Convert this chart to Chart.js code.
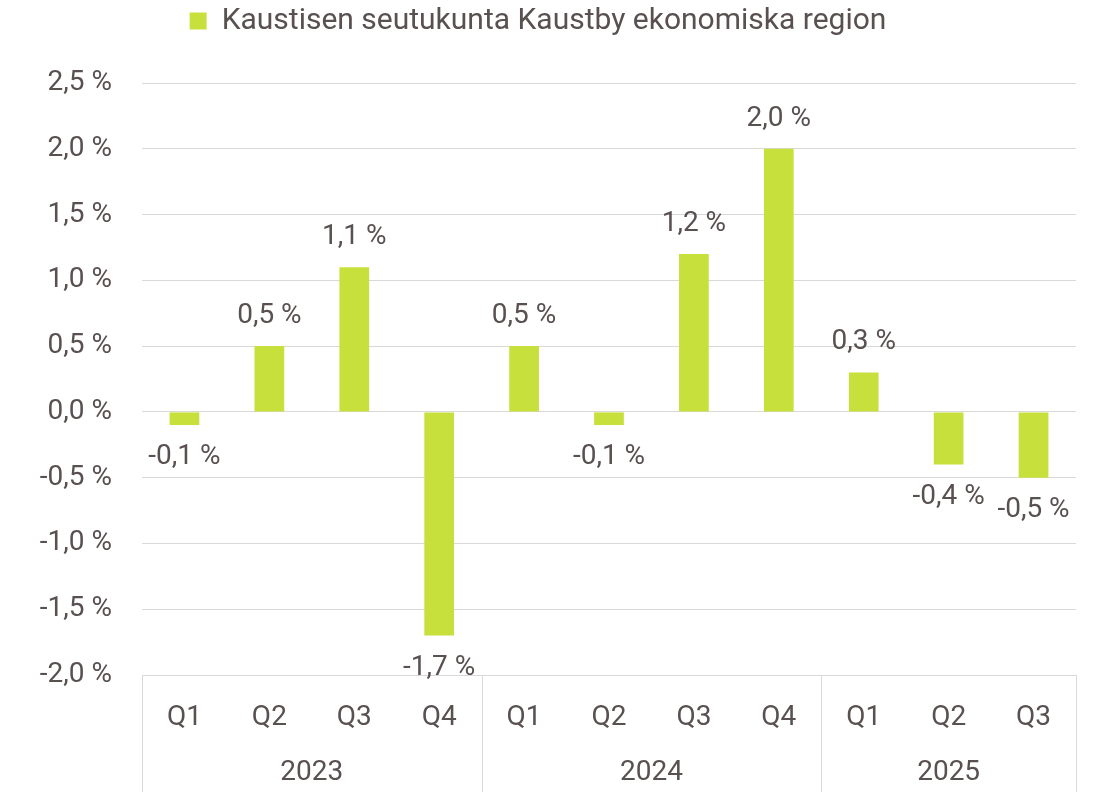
<!DOCTYPE html>
<html>
<head>
<meta charset="utf-8">
<script src="https://cdn.jsdelivr.net/npm/chart.js@4/dist/chart.umd.min.js"></script>
<style>
  html, body { margin: 0; padding: 0; background: #fff; }
  #wrap { width: 1100px; height: 792px; }
</style>
</head>
<body>
<div id="wrap"><canvas id="chart" width="1100" height="792"></canvas></div>
<script>
const quarters = ['Q1', 'Q2', 'Q3', 'Q4', 'Q1', 'Q2', 'Q3', 'Q4', 'Q1', 'Q2', 'Q3'];
const years = ['2023', '2024', '2025'];
const yearSizes = [4, 4, 3];
const values = [-0.1, 0.5, 1.1, -1.7, 0.5, -0.1, 1.2, 2.0, 0.3, -0.4, -0.5];
const seriesName = 'Kaustisen seutukunta Kaustby ekonomiska region';

const textColor = '#595050';
const barColor = '#c8e03c';
const gridColor = '#d9d9d9';
const fontFamily = 'Roboto, "Open Sans", sans-serif';
const labelSize = 28;

const fmt = v => v.toFixed(1).replace('.', ',') + ' %';

// extra room under the legend so the plot starts lower
const legendSpace = {
    id: 'legendSpace',
    beforeInit(chart) {
        const fit = chart.legend.fit;
        chart.legend.fit = function () {
            fit.bind(chart.legend)();
            this.height += 37;
        };
    }
};

// value labels on bars, year row and the group separators
const extras = {
    id: 'extras',
    afterDatasetsDraw(chart) {
        const ctx = chart.ctx;
        const meta = chart.getDatasetMeta(0);
        ctx.save();
        ctx.fillStyle = textColor;
        ctx.font = labelSize + 'px ' + fontFamily;
        ctx.textAlign = 'center';
        ctx.textBaseline = 'middle';
        meta.data.forEach((bar, i) => {
            const v = values[i];
            const y = v >= 0 ? bar.y - 30 : bar.y + 32;
            ctx.fillText(fmt(v), bar.x, y);
        });

        const x = chart.scales.x;
        const area = chart.chartArea;
        const bottom = chart.height;
        const step = x.getPixelForValue(1) - x.getPixelForValue(0);
        ctx.strokeStyle = gridColor;
        ctx.lineWidth = 1;
        let start = 0;
        const edges = [area.left];
        years.forEach((yr, g) => {
            const end = start + yearSizes[g] - 1;
            const cx = (x.getPixelForValue(start) + x.getPixelForValue(end)) / 2;
            ctx.fillText(yr, cx, 773);
            edges.push(g === years.length - 1 ? area.right : x.getPixelForValue(end) + step / 2);
            start = end + 1;
        });
        edges.forEach(ex => {
            const px = Math.round(ex) + 0.5;
            ctx.beginPath();
            ctx.moveTo(px, area.bottom);
            ctx.lineTo(px, bottom);
            ctx.stroke();
        });
        ctx.restore();
    }
};

new Chart(document.getElementById('chart'), {
    type: 'bar',
    data: {
        labels: quarters,
        datasets: [{
            label: seriesName,
            data: values,
            backgroundColor: barColor,
            borderWidth: 0,
            barPercentage: 0.7,
            categoryPercentage: 0.5
        }]
    },
    options: {
        responsive: false,
        animation: false,
        layout: { padding: { top: 0, right: 24, bottom: 0, left: 0 } },
        plugins: {
            legend: {
                position: 'top',
                labels: {
                    color: textColor,
                    font: { size: 30, family: fontFamily },
                    boxWidth: 17,
                    boxHeight: 17,
                    padding: 6
                }
            },
            tooltip: { enabled: false }
        },
        scales: {
            x: {
                grid: { display: false, drawTicks: false },
                border: { display: false },
                ticks: {
                    color: textColor,
                    font: { size: labelSize, family: fontFamily },
                    padding: 26,
                    maxRotation: 0
                },
                afterFit(scale) { scale.height = 117; }
            },
            y: {
                min: -2,
                max: 2.5,
                grid: { color: gridColor, drawTicks: false },
                border: { display: false },
                ticks: {
                    stepSize: 0.5,
                    color: textColor,
                    font: { size: labelSize, family: fontFamily },
                    padding: 30,
                    callback: v => fmt(v)
                },
                afterFit(scale) { scale.width = 142; }
            }
        }
    },
    plugins: [extras, legendSpace]
});
</script>
</body>
</html>
